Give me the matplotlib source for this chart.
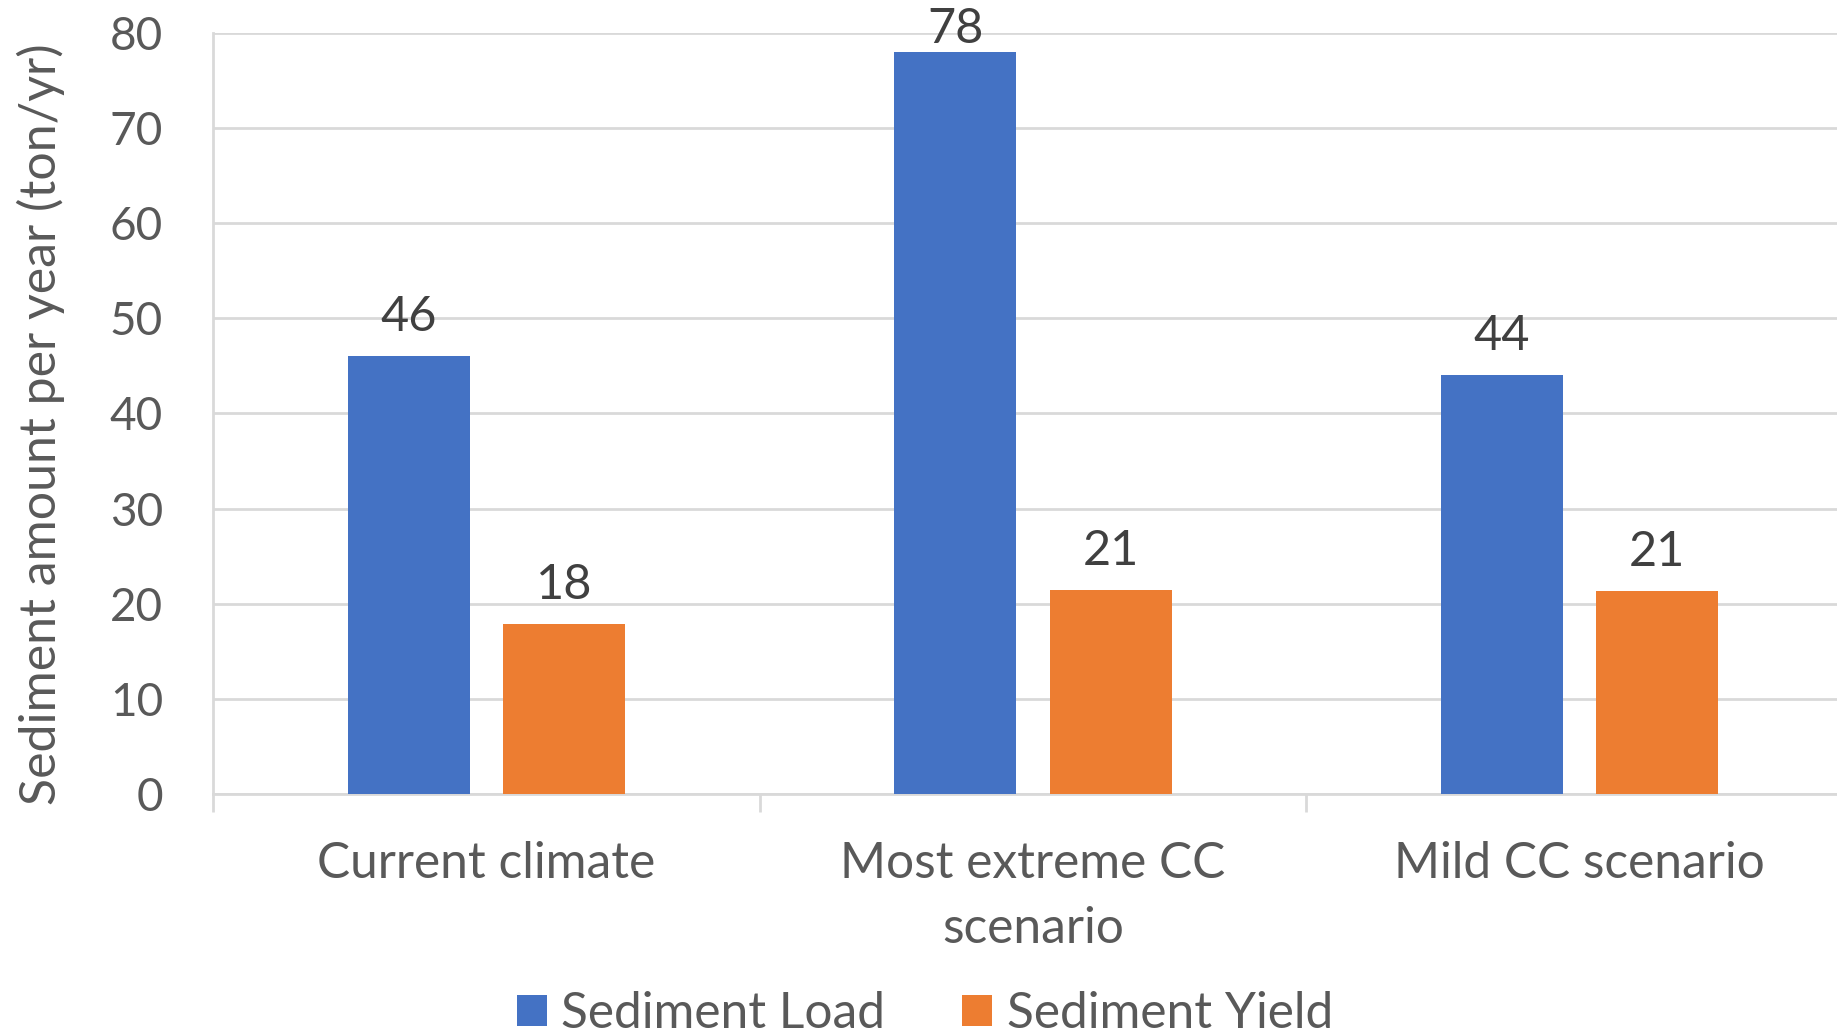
import numpy as np
import matplotlib.pyplot as plt

# data
categories = ['Current climate', 'Most extreme CC\nscenario', 'Mild CC scenario']
sediment_load = [46, 78, 44]
sediment_yield = [17.9, 21.4, 21.3]
series_names = ['Sediment Load', 'Sediment Yield']
yticks = [0, 10, 20, 30, 40, 50, 60, 70, 80]

blue = '#4472C4'
orange = '#ED7D31'
txt = '#595959'
grid = '#D9D9D9'

plt.rcParams['font.family'] = ['Lato', 'DejaVu Sans']

fig = plt.figure(figsize=(18.37, 10.34), dpi=100)
ax = fig.add_axes([213/1837, 1 - 794/1034, (1853-213)/1837, (794-33)/1034])

x = np.arange(len(categories))
w = 0.223
off = 0.142
b1 = ax.bar(x - off, sediment_load, w, color=blue, label=series_names[0], zorder=3)
b2 = ax.bar(x + off, sediment_yield, w, color=orange, label=series_names[1], zorder=3)

# data labels (the tallest one is pushed down so it stays inside the picture)
for bars, vals in [(b1, sediment_load), (b2, sediment_yield)]:
    for r, v in zip(bars, vals):
        dy = 18 if v < 70 else 6.5
        ax.annotate(str(int(round(v))), (r.get_x() + r.get_width()/2, v),
                    xytext=(0, dy), textcoords='offset points',
                    ha='center', va='baseline', fontsize=35, color='#404040')

ax.set_xlim(-0.5, 2.5)
ax.set_ylim(0, 80)
ax.set_yticks(yticks)
ax.tick_params(axis='y', length=0, labelsize=33, labelcolor=txt, pad=36)
ax.yaxis.grid(True, color=grid, linewidth=2, zorder=0)

ax.set_xticks(x)
ax.set_xticklabels(categories)
ax.tick_params(axis='x', which='major', length=0, labelsize=35.7, labelcolor=txt, pad=34)
ax.set_xticks([-0.5, 0.5, 1.5, 2.5], minor=True)
ax.tick_params(axis='x', which='minor', length=13, width=2, color=grid)
for lab in ax.get_xticklabels():
    lab.set_linespacing(1.5)

for s in ['top', 'right']:
    ax.spines[s].set_visible(False)
ax.spines['left'].set_color(grid)
ax.spines['left'].set_linewidth(2)
ax.spines['bottom'].set_color(grid)
ax.spines['bottom'].set_linewidth(2)

ylab = ax.set_ylabel('Sediment amount per year (ton/yr)', fontsize=36, color=txt)
ylab.set_va('center')
ax.yaxis.set_label_coords(-0.105, 0.486)

fig.legend(loc='center', bbox_to_anchor=(925/1837, 1 - 1014/1034), ncol=2,
           frameon=False, fontsize=35.7, labelcolor=txt, handlelength=0.6,
           handleheight=0.6, columnspacing=1.55, handletextpad=0.3)

plt.savefig('out.png', dpi=100)
